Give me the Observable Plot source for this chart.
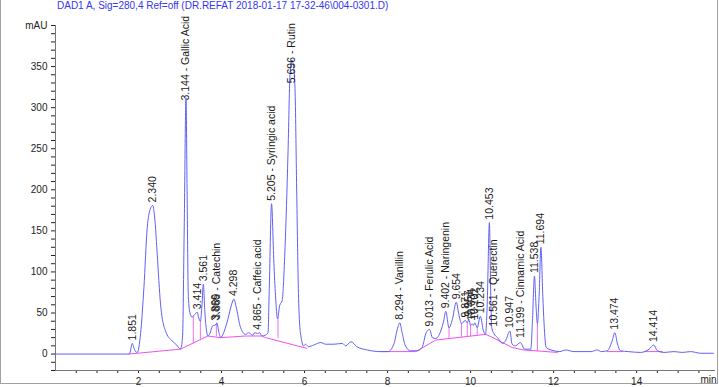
<!DOCTYPE html>
<html>
<head>
<meta charset="utf-8">
<script src="https://cdn.jsdelivr.net/npm/d3@7"></script>
<script src="https://cdn.jsdelivr.net/npm/@observablehq/plot@0.6"></script>
<style>
  html, body { margin: 0; padding: 0; background: #fff; }
  #wrap { position: relative; width: 719px; height: 387px; overflow: hidden; background: #fff; }
  #frame { position: absolute; left: 0; top: 0; width: 716px; height: 383px;
           border-left: 1px solid #a0a0a0; border-right: 1px solid #a0a0a0; border-bottom: 1px solid #a0a0a0; }
  #title { position: absolute; left: 57px; top: 0px; font: 10px "Liberation Sans", Arial, sans-serif;
           color: #3535f0; white-space: nowrap; }
  #chart { position: absolute; left: 0; top: 0; }
</style>
</head>
<body>
<div id="wrap">
  <div id="frame"></div>
  <div id="chart"></div>
  <div id="title">DAD1 A, Sig=280,4 Ref=off (DR.REFAT 2018-01-17 17-32-46\004-0301.D)</div>
</div>
<script>
// ---- chromatogram trace (time in min, signal in mAU) ----
const traceT = [0.0, 0.5, 1.0, 1.5, 1.75, 1.79, 1.83, 1.851, 1.88, 1.93, 1.97, 2.05, 2.13, 2.21, 2.28, 2.34, 2.40, 2.45, 2.53, 2.65, 2.81, 2.92, 3.01,
  3.06, 3.10, 3.144, 3.17, 3.20, 3.24, 3.29, 3.35, 3.414, 3.45, 3.49, 3.53, 3.561, 3.60, 3.64, 3.67, 3.72, 3.78, 3.866, 3.889, 3.93, 3.98,
  4.05, 4.15, 4.24, 4.298, 4.35, 4.46, 4.58, 4.65, 4.75, 4.80, 4.865, 4.92, 4.97, 5.05, 5.12, 5.15, 5.205, 5.26, 5.30, 5.35, 5.40, 5.46,
  5.53, 5.60, 5.65, 5.696, 5.73, 5.77, 5.81, 5.85, 5.90, 5.98, 6.02, 6.10, 6.22, 6.39, 6.51, 6.71, 6.91, 6.99, 7.12, 7.26, 7.51, 7.83,
  8.01, 8.15, 8.25, 8.294, 8.35, 8.43, 8.55, 8.71, 8.83, 8.93, 9.013, 9.08, 9.16, 9.28, 9.35, 9.402, 9.48, 9.56, 9.654, 9.73, 9.78,
  9.871, 9.92, 9.957, 10.00, 10.034, 10.07, 10.102, 10.16, 10.234, 10.31, 10.36, 10.40, 10.453, 10.49, 10.51, 10.561, 10.65, 10.77,
  10.84, 10.947, 11.00, 11.08, 11.199, 11.30, 11.45, 11.49, 11.538, 11.58, 11.61, 11.65, 11.694, 11.74, 11.77, 11.82, 12.01, 12.15,
  12.29, 12.49, 12.73, 12.90, 13.05, 13.15, 13.29, 13.41, 13.474, 13.54, 13.61, 13.80, 14.10, 14.30, 14.414, 14.50, 14.66, 14.90,
  15.10, 15.30, 15.54, 15.85];
const traceV = [0, 0, 0, 0, 0, 1, 10, 13, 9, 3, 2, 25, 81, 154, 176, 181, 160, 122, 61, 28, 16, 11, 6,
  20, 150, 312, 200, 70, 50, 45, 48, 51, 44, 40, 60, 85, 50, 28, 22, 25, 34, 36, 38, 28, 20,
  26, 42, 60, 67, 58, 32, 24, 26, 23, 26, 25, 26, 22, 23, 26, 80, 183, 112, 71, 43, 59, 65,
  130, 242, 340, 358, 352, 323, 201, 80, 26, 10, 12, 9, 11, 14, 12, 12, 13, 10, 15, 9, 5, 3,
  3, 12, 33, 38, 26, 10, 4, 4, 8, 26, 30, 20, 19, 28, 40, 52, 32, 42, 63, 45, 37,
  41, 38, 42, 35, 37, 35, 38, 32, 46, 28, 24, 60, 160, 60, 32, 25, 20, 13,
  16, 28, 12, 10, 14, 6, 6, 40, 95, 55, 37, 70, 130, 70, 37, 8, 4, 3,
  5, 3, 3, 3, 5, 3, 4, 16, 26, 12, 4, 3, 2, 6, 11, 4, 2, 3,
  2, 3, 1, 1];

// ---- labelled peaks (time, label anchor in mAU, text) ----
const peakT = [1.851, 2.340, 3.144, 3.414, 3.561, 3.866, 3.889, 4.298, 4.865, 5.205, 5.696, 8.294, 9.013, 9.402, 9.654,
  9.871, 9.957, 10.034, 10.102, 10.234, 10.453, 10.561, 10.947, 11.199, 11.538, 11.694, 13.474, 14.414];
const peakV = [13, 181, 305, 51, 85, 37, 38, 67, 26, 183, 326, 38, 30, 52, 63,
  41, 42, 37, 38, 46, 160, 30, 28, 16, 95, 130, 26, 11];
const peakLabel = ["1.851", "2.340", "3.144 - Gallic Acid", "3.414", "3.561", "3.866", "3.889 - Catechin", "4.298",
  "4.865 - Caffeic acid", "5.205 - Syringic acid", "5.696 - Rutin", "8.294 - Vanillin", "9.013 - Ferulic Acid",
  "9.402 - Naringenin", "9.654", "9.871", "9.957", "10.034", "10.102", "10.234", "10.453", "10.561 - Querectin",
  "10.947", "11.199 - Cinnamic Acid", "11.538", "11.694", "13.474", "14.414"];

// ---- integration baselines (segment id, time, mAU) ----
const baseSeg = ["a", "a", "a", "a", "a", "a", "a", "a", "b", "b", "b", "b", "b", "b", "b", "b", "b", "c", "c", "d", "d"];
const baseT = [1.77, 3.01, 3.67, 3.98, 4.58, 4.97, 5.06, 6.05, 7.83, 8.68, 9.16, 10.36, 10.50, 11.00, 11.28, 11.70, 12.09, 13.29, 13.65, 14.20, 14.62];
const baseV = [0, 6, 22, 20, 22, 22, 20, 7, 3, 3, 17, 24, 21, 8, 5, 3.5, 2, 3, 3, 3, 3];

// ---- peak split drop lines (time, baseline mAU, signal mAU) ----
const dropT = [3.32, 3.49, 3.875, 5.36, 9.48, 9.78, 9.92, 10.00, 10.16, 11.61];
const dropLo = [12, 16, 21, 19, 19, 20, 21, 21, 22, 3];
const dropHi = [46, 40, 37, 43, 32, 37, 38, 35, 32, 37];

// ---- axes ----
const yMinorTicks = d3.range(-20, 401, 10);
const yLabelTicks = [0, 50, 100, 150, 200, 250, 300, 350];
const yUnit = "mAU";
const xMinorTicks = d3.range(0.5, 15.6, 0.5);
const xLabelTicks = [2, 4, 6, 8, 10, 12, 14];
const xUnit = "min";

const trace = traceT.map((t, i) => ({t, v: traceV[i]}));
const peaks = peakT.map((t, i) => ({t, v: peakV[i], label: peakLabel[i]}));
const base = baseT.map((t, i) => ({t, v: baseV[i], seg: baseSeg[i]}));
const drops = dropT.map((t, i) => ({t, lo: dropLo[i], hi: dropHi[i]}));

const font = "'Liberation Sans', Arial, sans-serif";

const chart = Plot.plot({
  width: 719,
  height: 387,
  marginLeft: 55,
  marginRight: 4,
  marginTop: 25,
  marginBottom: 17,
  style: {fontFamily: font, fontSize: "10px", background: "transparent", color: "#222"},
  x: {domain: [0, 15.9], ticks: xMinorTicks, tickSize: 3, tickPadding: 4,
      tickFormat: d => xLabelTicks.includes(d) ? String(d) : "", label: null},
  y: {domain: [-20, 400], ticks: yMinorTicks, tickSize: 4, tickPadding: 4,
      tickFormat: d => d === 400 ? yUnit : (yLabelTicks.includes(d) ? String(d) : ""), label: null},
  marks: [
    Plot.ruleX([0], {stroke: "#777", strokeWidth: 1}),
    Plot.ruleY([-20], {stroke: "#777", strokeWidth: 1}),
    Plot.line(base, {x: "t", y: "v", z: "seg", stroke: "#f050f0", strokeWidth: 1}),
    Plot.ruleX(drops, {x: "t", y1: "lo", y2: "hi", stroke: "#f070f0", strokeWidth: 1}),
    Plot.line(trace, {x: "t", y: "v", stroke: "#6060f8", strokeWidth: 1, curve: "monotone-x"}),
    Plot.text(peaks, {x: "t", y: "v", text: "label", rotate: -90, textAnchor: "start", dy: -3,
                      fontSize: 10.5, fill: "#1a1a1a", fontFamily: font}),
    Plot.text([xUnit], {frameAnchor: "bottom-right", text: d => d, textAnchor: "end", dx: 1, dy: 12,
                        fontSize: 10, fill: "#222", fontFamily: font})
  ]
});
document.getElementById("chart").appendChild(chart);
</script>
</body>
</html>
